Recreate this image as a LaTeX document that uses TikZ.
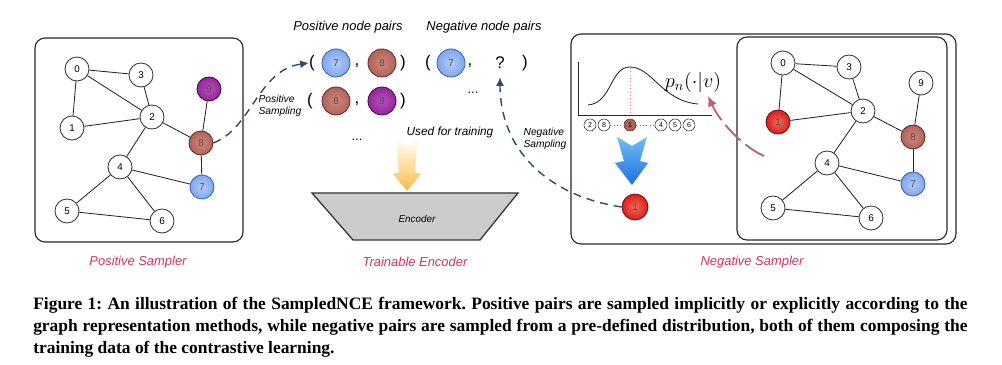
\documentclass[tikz,border=0pt]{standalone}
\usepackage{fontspec}
\setmainfont{Liberation Serif}
\setsansfont{Liberation Sans}
\usetikzlibrary{arrows.meta,positioning,calc}
\definecolor{samplered}{HTML}{D2335C}
\definecolor{sampline}{HTML}{2F4B68}
\definecolor{blueout}{HTML}{7FA6EC}
\definecolor{bluein}{HTML}{B4CDF8}
\definecolor{blueedge}{HTML}{3A62AE}
\definecolor{brownout}{HTML}{B0625A}
\definecolor{brownin}{HTML}{CF877C}
\definecolor{brownedge}{HTML}{5A2E2A}
\definecolor{purpout}{HTML}{93279A}
\definecolor{purpin}{HTML}{B650BC}
\definecolor{purpedge}{HTML}{3C0C42}
\definecolor{redout}{HTML}{D81E1E}
\definecolor{redin}{HTML}{F36A58}
\definecolor{rededge}{HTML}{761010}
\definecolor{pullred}{HTML}{B8646E}

\begin{document}
\frenchspacing
\begin{tikzpicture}[x=0.025cm, y=-0.025cm,
  gnode/.style={circle, draw=black!80, fill=white, minimum size=0.6cm, inner sep=0pt,
    line width=0.6pt, font=\sffamily\fontsize{7}{8}\selectfont},
  bluenode/.style={gnode, draw=blueedge, shading=radial, inner color=bluein, outer color=blueout, text=black!70},
  brownnode/.style={gnode, draw=brownedge, shading=radial, inner color=brownin, outer color=brownout, text=black!70},
  purpnode/.style={gnode, draw=purpedge, shading=radial, inner color=purpin, outer color=purpout, text=black!70},
  rednode/.style={gnode, draw=rededge, shading=radial, inner color=redin, outer color=redout, text=black!70},
  pairnode/.style={minimum size=0.7cm},
  tinynode/.style={circle, draw=black!80, fill=white, minimum size=0.3cm, inner sep=0pt,
    font=\sffamily\fontsize{5}{5}\selectfont},
  edge/.style={black!85, line width=0.6pt},
  panel/.style={draw=black!85, line width=0.8pt, rounded corners=0.25cm},
  sym/.style={font=\sffamily\fontsize{12}{14}\selectfont, inner sep=0pt},
  head/.style={font=\sffamily\itshape\fontsize{9.2}{11}\selectfont},
  small/.style={font=\sffamily\itshape\fontsize{7.3}{8.6}\selectfont, align=left},
  title/.style={font=\sffamily\itshape\fontsize{9.2}{11}\selectfont, text=samplered},
  samp/.style={sampline, line width=1pt, dash pattern=on 0.2cm off 0.15cm, -{Latex[length=2.2mm,width=2mm]}},
  capline/.style={anchor=base west, inner sep=0pt, font=\rmfamily\bfseries\fontsize{12.4}{14}\selectfont}
]
\useasboundingbox (0,0) rectangle (1002,365);

% positive sampler
\draw[panel] (35,38) rectangle (243,242);
\node[gnode] (l0) at (77,69) {0};
\node[gnode] (l3) at (141,75) {3};
\node[gnode] (l2) at (152,117) {2};
\node[gnode] (l1) at (72,128) {1};
\node[gnode] (l4) at (120,167) {4};
\node[gnode] (l5) at (67,211) {5};
\node[gnode] (l6) at (162,221) {6};
\node[purpnode] (l9) at (209,89) {9};
\node[brownnode] (l8) at (201,143) {8};
\node[bluenode] (l7) at (202,187) {7};
\foreach \a/\b in {0/3,0/2,0/1,3/2,1/2,2/8,2/4,9/8,8/7,4/7,4/5,4/6,5/6}
  \draw[edge] (l\a) -- (l\b);
\node[title] (possampler) at (138,262) {Positive Sampler};

% node pairs
\node[head] (poshead) at (348,27) {Positive node pairs};
\node[head] (neghead) at (484,27) {Negative node pairs};
\node[sym] (pao) at (312,63) {(};
\node[bluenode, pairnode] (pa7) at (336,63) {7};
\node[sym] (pac) at (357,66) {,};
\node[brownnode, pairnode] (pa8) at (382,63) {8};
\node[sym] (pae) at (403,63) {)};
\node[sym] (pbo) at (310,101) {(};
\node[brownnode, pairnode] (pb8) at (336,101) {8};
\node[sym] (pbc) at (357,104) {,};
\node[purpnode, pairnode] (pb9) at (382,101) {9};
\node[sym] (pbe) at (403,101) {)};
\node[sym] (nao) at (428,63) {(};
\node[bluenode, pairnode] (na7) at (451,63) {7};
\node[sym] (nac) at (470,66) {,};
\node[sym] (nq) at (500,63) {?};
\node[sym] (nae) at (525,63) {)};
\node[sym, font=\sffamily\fontsize{9}{10}\selectfont] (negdots) at (473,93) {...};
\node[sym, font=\sffamily\fontsize{9}{10}\selectfont] (posdots) at (357,140) {...};
\node[small] (possamp) at (280,106) {Positive\\Sampling};
\node[small] (negsamp) at (545,139) {Negative\\Sampling};
\node[font=\sffamily\itshape\fontsize{8.4}{10}\selectfont] (usedfor) at (450,132) {Used for training};

% encoder
\shade[top color=white, bottom color={rgb,255:red,248;green,190;blue,70}]
  (396,138) -- (407,146) -- (418,138) -- (415,172) -- (421,174) -- (407,191) -- (393,174) -- (399,172) -- cycle;
\draw[fill=black!20, draw=black!80, line width=0.9pt] (312,193) -- (518,193) -- (480,240) -- (353,240) -- cycle;
\node[font=\sffamily\itshape\fontsize{7}{8}\selectfont] (enc) at (417,219) {Encoder};
\node[title] (trainenc) at (415,262) {Trainable Encoder};

% negative sampler
\draw[panel] (571,34) rectangle (956,244);
\draw[panel] (737,37) rectangle (947,240);
\draw[black!85, line width=0.6pt] (578,62) -- (578,115) -- (712,115);
\draw[black!85, line width=0.6pt] (588,105) .. controls (612,103) and (610,67) .. (630,67)
  .. controls (652,67) and (662,101) .. (698,104);
\draw[red!50, dotted] (630,68) -- (630,115);
\node[font=\fontsize{14}{16}\selectfont] (pn) at (693,82) {$p_n(\cdot|v)$};
\node[tinynode] (s2) at (590,125) {2};
\node[tinynode] (s8) at (604,125) {8};
\node[tinynode, fill=brownout, draw=brownedge] (s1) at (630,125) {1};
\node[tinynode] (s4) at (661,125) {4};
\node[tinynode] (s5) at (675,125) {5};
\node[tinynode] (s6) at (689,125) {6};
\draw[black!60, dotted] (s8) -- (s1);
\draw[black!60, dotted] (s1) -- (s4);
\shade[top color={rgb,255:red,110;green,190;blue,245}, bottom color={rgb,255:red,30;green,110;blue,225}]
  (617,137) -- (632,146) -- (647,137) -- (640,161) -- (648,163) -- (632,185) -- (615,163) -- (624,161) -- cycle;
\node[rednode, minimum size=0.65cm] (negone) at (635,207) {1};

\node[gnode] (r0) at (783,63) {0};
\node[gnode] (r3) at (849,67) {3};
\node[gnode] (r2) at (863,111) {2};
\node[rednode] (r1) at (778,122) {1};
\node[gnode] (r4) at (827,163) {4};
\node[gnode] (r5) at (773,208) {5};
\node[gnode] (r6) at (871,218) {6};
\node[gnode] (r9) at (921,83) {9};
\node[brownnode] (r8) at (913,137) {8};
\node[bluenode] (r7) at (913,184) {7};
\foreach \a/\b in {0/3,0/2,0/1,3/2,1/2,2/8,2/4,9/8,8/7,4/7,4/5,4/6,5/6}
  \draw[edge] (r\a) -- (r\b);
\coordinate (pullstart) at (764,156);
\coordinate (pullend) at (708,96);
\draw[pullred, line width=1.3pt, dash pattern=on 0.55cm off 0.15cm, -{Latex[length=2.6mm,width=2.4mm]}]
  (pullstart) .. controls (742,146) and (720,122) .. (pullend);
\node[title] (negsampler) at (752,262) {Negative Sampler};

% sampling arrows
\draw[samp] (l8.east) .. controls (252,128) and (258,70) .. (pao.west);
\draw[samp, shorten >=0.2cm] (negone.west) .. controls (548,196) and (500,150) .. (nq.south);

% caption
\node[capline] (cap1) at (33,310) {\makebox[23.35cm][s]{Figure 1: An illustration of the SampledNCE framework. Positive pairs are sampled implicitly or explicitly according to the}};
\node[capline] (cap2) at (33,332) {\makebox[23.35cm][s]{graph representation methods, while negative pairs are sampled from a pre-defined distribution, both of them composing the}};
\node[capline] (cap3) at (33,354) {training data of the contrastive learning.};
\end{tikzpicture}
\end{document}
